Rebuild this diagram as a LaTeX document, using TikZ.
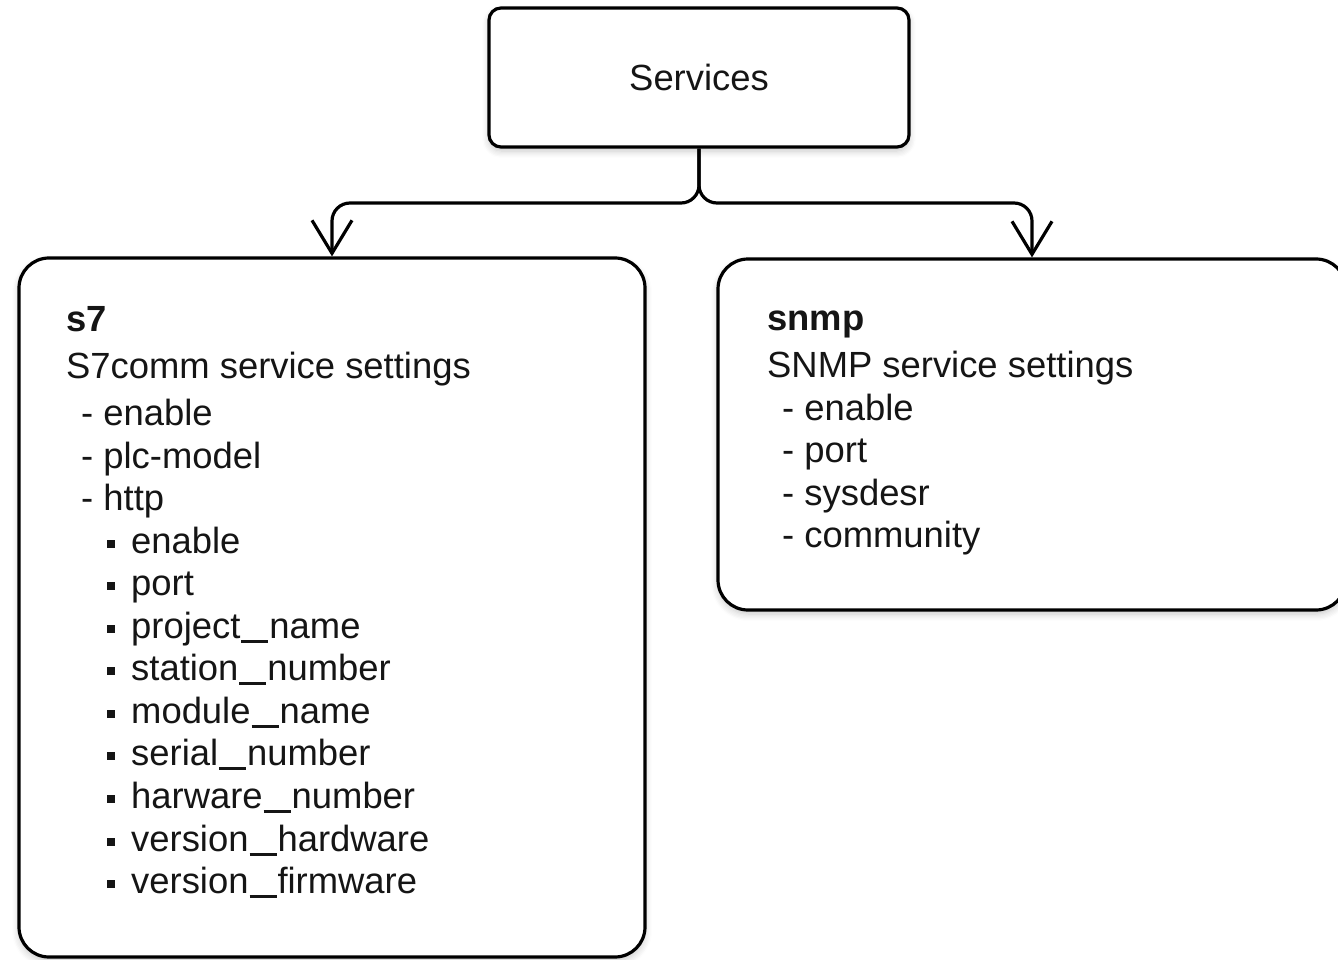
\documentclass[tikz,border=0pt]{standalone}
\usepackage{fontspec}
\setmainfont{Liberation Sans}
\usetikzlibrary{arrows.meta,shadows.blur}
\definecolor{ink}{HTML}{151515}

\begin{document}
\begin{tikzpicture}[x=1pt,y=-1pt,
  panel/.style={draw=black,line width=3.2pt,fill=white,rounded corners=#1,
    minimum width=0pt,minimum height=0pt,inner sep=0pt,
    blur shadow={shadow xshift=0pt,shadow yshift=-4pt,shadow blur radius=7pt,
      shadow blur steps=6,shadow opacity=22}},
  txt/.style={anchor=base west,inner sep=0pt,text=ink,
    font=\fontsize{36.4}{42.5}\selectfont},
  head/.style={txt,font=\fontsize{36.4}{42.5}\selectfont\bfseries},
  link/.style={draw=black,line width=3.2pt,rounded corners=18pt,
    -{Straight Barb[length=33pt,width=40pt]}},
]
\newcommand{\sqbul}{\rule[5.5pt]{8pt}{8pt}\hspace{16pt}}
\newcommand{\us}{\kern1pt\rule[-5pt]{27pt}{2.6pt}\kern1pt}
\useasboundingbox (0,0) rectangle (1338,960);
\clip (0,0) rectangle (1338,960);

% boxes
\node[panel=12pt,minimum width=420pt,minimum height=139pt] (svc) at (699,77.5) {};
\node[txt,anchor=base] (svct) at (699,91) {Services};
\node[panel=30pt,minimum width=626pt,minimum height=699pt] (s7) at (332,607.5) {};
\node[panel=30pt,minimum width=628pt,minimum height=351pt] (snmp) at (1032,434.5) {};

% connectors
\coordinate (bus) at (0,203);
\draw[link] (svc.south) |- (s7.north |- bus) -- (s7.north);
\draw[link] (svc.south) |- (snmp.north |- bus) -- (snmp.north);

% s7 contents
\node[head] (a0) at (66,331) {s7};
\node[txt] (a1) at (66,378) {S7comm service settings};
\foreach \t/\y [count=\i] in {enable/425,plc-model/468,http/510}
  \node[txt] (b\i) at (81,\y) {- \t};
\foreach \t/\y [count=\i] in {enable/553,port/595,project\us name/638,
    station\us number/680,module\us name/723,serial\us number/765,
    harware\us number/808,version\us hardware/851,version\us firmware/893}
  \node[txt] (c\i) at (107,\y) {\sqbul\t};

% snmp contents
\node[head] (d0) at (767,330) {snmp};
\node[txt] (d1) at (767,377) {SNMP service settings};
\foreach \t/\y [count=\i] in {enable/420,port/462,sysdesr/505,community/547}
  \node[txt] (e\i) at (782,\y) {- \t};
\end{tikzpicture}
\end{document}
